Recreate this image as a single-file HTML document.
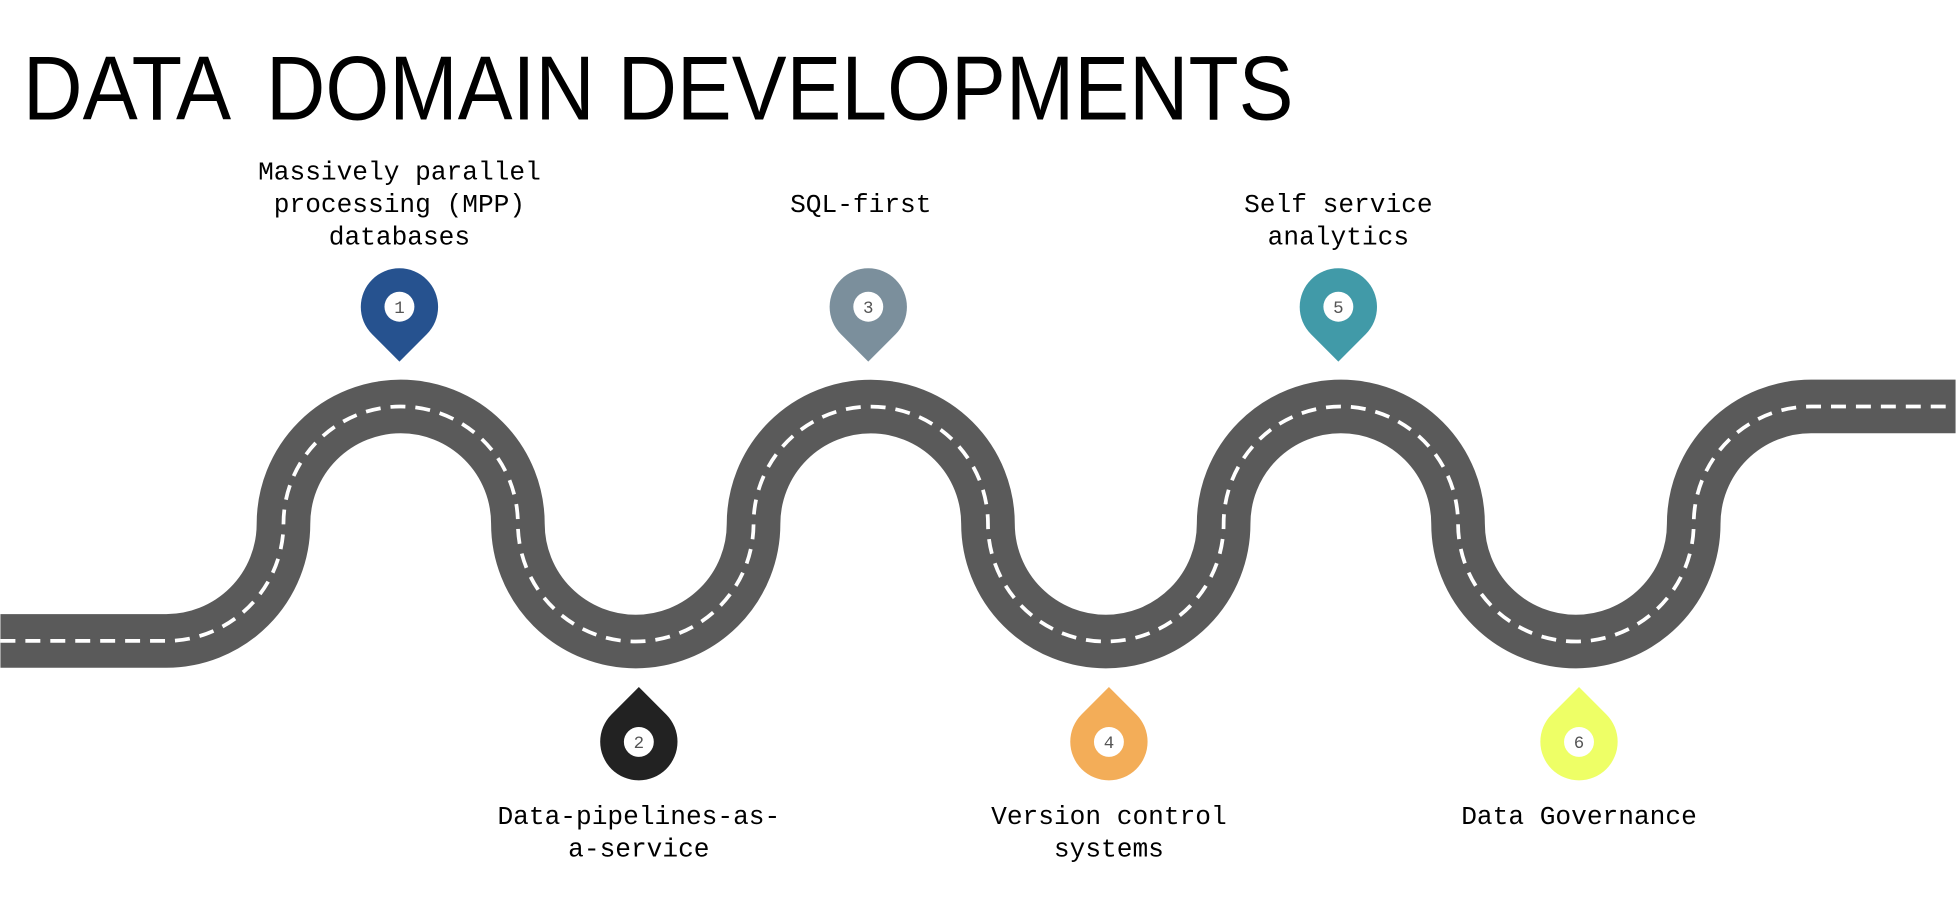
<!DOCTYPE html>
<html><head><meta charset="utf-8"><style>html,body{margin:0;padding:0;background:#fff}svg{display:block}</style></head>
<body>
<svg width="1956" height="904" viewBox="0 0 1568 725" xmlns="http://www.w3.org/2000/svg">
<rect width="1568" height="725" fill="#fff"/>
<g font-family="Liberation Sans, sans-serif" font-size="73">
<text x="18" y="96" textLength="167" lengthAdjust="spacingAndGlyphs">DATA</text>
<text x="213" y="96" textLength="824" lengthAdjust="spacingAndGlyphs">DOMAIN DEVELOPMENTS</text>
</g>
<g fill="none">
<path d="M0,514 H133 A94,94 0 0 0 227,420 A94,94 0 0 1 415,420 A94,94 0 0 0 604,420 A94,94 0 0 1 792,420 A94,94 0 0 0 981,420 A94,94 0 0 1 1169,420 A94,94 0 0 0 1358,420 A94,94 0 0 1 1452,326 H1568" stroke="#5a5a5a" stroke-width="43"/>
<path d="M0,514 H133 A94,94 0 0 0 227,420 A94,94 0 0 1 415,420 A94,94 0 0 0 604,420 A94,94 0 0 1 792,420 A94,94 0 0 0 981,420 A94,94 0 0 1 1169,420 A94,94 0 0 0 1358,420 A94,94 0 0 1 1452,326 H1568" stroke="#fff" stroke-width="3" stroke-dasharray="12 8"/>
</g>
<g font-family="Liberation Mono, monospace" font-size="14" fill="#555" text-anchor="middle">
<g transform="translate(320,246)"><path d="M-22,22 A31,31 0 1 1 22,22 L0,44 Z" fill="#26528f"/><circle r="12" fill="#fff"/><text y="5">1</text></g>
<g transform="translate(512,595)"><path d="M-22,-22 A31,31 0 1 0 22,-22 L0,-44 Z" fill="#222"/><circle r="12" fill="#fff"/><text y="5">2</text></g>
<g transform="translate(696,246)"><path d="M-22,22 A31,31 0 1 1 22,22 L0,44 Z" fill="#7b8f9c"/><circle r="12" fill="#fff"/><text y="5">3</text></g>
<g transform="translate(889,595)"><path d="M-22,-22 A31,31 0 1 0 22,-22 L0,-44 Z" fill="#f3ad58"/><circle r="12" fill="#fff"/><text y="5">4</text></g>
<g transform="translate(1073,246)"><path d="M-22,22 A31,31 0 1 1 22,22 L0,44 Z" fill="#419aa8"/><circle r="12" fill="#fff"/><text y="5">5</text></g>
<g transform="translate(1266,595)"><path d="M-22,-22 A31,31 0 1 0 22,-22 L0,-44 Z" fill="#eeff66"/><circle r="12" fill="#fff"/><text y="5">6</text></g>
</g>
<g font-family="Liberation Mono, monospace" font-size="21" fill="#000" text-anchor="middle">
<text x="320" y="144">Massively parallel</text>
<text x="320" y="170">processing (MPP)</text>
<text x="320" y="196">databases</text>
<text x="690" y="170">SQL-first</text>
<text x="1073" y="170">Self service</text>
<text x="1073" y="196">analytics</text>
<text x="512" y="661">Data-pipelines-as-</text>
<text x="512" y="687">a-service</text>
<text x="889" y="661">Version control</text>
<text x="889" y="687">systems</text>
<text x="1266" y="661">Data Governance</text>
</g>
</svg>
</body></html>
